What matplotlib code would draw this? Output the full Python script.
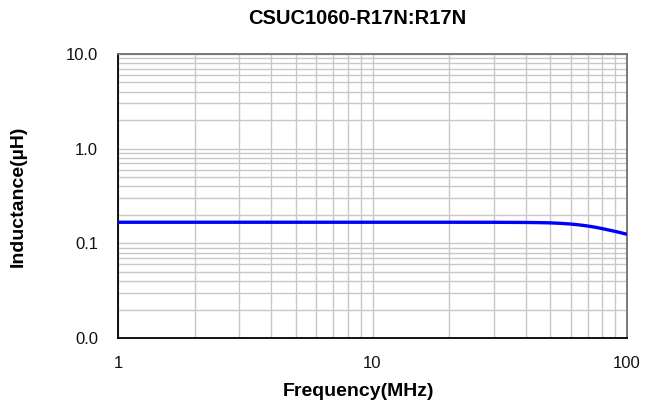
import matplotlib
matplotlib.use("Agg")
import matplotlib.pyplot as plt
from matplotlib.ticker import FixedLocator, NullFormatter

plt.rcParams['font.family'] = ['Liberation Sans', 'DejaVu Sans']

# frequency in MHz, inductance in uH
freq = [1, 10, 20, 30, 40, 45, 50, 55, 60, 65, 70, 75, 80, 85, 90, 95, 100]
induct = [0.167, 0.167, 0.167, 0.1668, 0.1662, 0.1655, 0.1645, 0.1625, 0.160,
          0.1565, 0.1525, 0.148, 0.143, 0.138, 0.1335, 0.129, 0.1246]

y_ticks = [0.01, 0.1, 1.0, 10.0]
y_labels = ["0.0", "0.1", "1.0", "10.0"]
x_ticks = [1, 10, 100]
x_labels = ["1", "10", "100"]

W, H = 646, 407
fig = plt.figure(figsize=(W / 100, H / 100), dpi=100)
ax = fig.add_axes([118 / W, 1 - 338 / H, (627 - 118) / W, (338 - 54) / H])
ax.set_xscale('log')
ax.set_yscale('log')
ax.set_xlim(1, 100)
ax.set_ylim(0.01, 10)

ax.plot(freq, induct, color='#0000ff', lw=2.4, zorder=3, solid_capstyle='butt')

ax.set_xticks(x_ticks)
ax.set_xticklabels(x_labels)
ax.set_yticks(y_ticks)
ax.set_yticklabels(y_labels)
ax.xaxis.set_minor_locator(FixedLocator([m * d for d in (1, 10) for m in range(2, 10)]))
ax.yaxis.set_minor_locator(FixedLocator([m * d for d in (0.01, 0.1, 1) for m in range(2, 10)]))
ax.xaxis.set_minor_formatter(NullFormatter())
ax.yaxis.set_minor_formatter(NullFormatter())
ax.tick_params(which='both', length=0, labelsize=12, colors='#111111')
ax.tick_params(axis='x', pad=13)
ax.tick_params(axis='y', pad=14.4)
ax.grid(True, which='both', color='#c8c8c8', lw=1)

for s in ['left', 'bottom']:
    ax.spines[s].set_color('black')
for s in ['top', 'right']:
    ax.spines[s].set_color('#707070')
for s in ax.spines.values():
    s.set_linewidth(1.3)

fig.text(357 / W, 1 - 24.5 / H, 'CSUC1060-R17N:R17N', fontsize=14.5, fontweight='bold',
         ha='center', va='baseline')
fig.text(358 / W, 1 - 396 / H, 'Frequency(MHz)', fontsize=14, fontweight='bold',
         ha='center', va='baseline')
fig.text(18 / W, 1 - 196 / H, 'Inductance(\u00b5H)', fontsize=14, fontweight='bold',
         ha='center', va='center', rotation=90)

fig.savefig('out.png', dpi=100)
